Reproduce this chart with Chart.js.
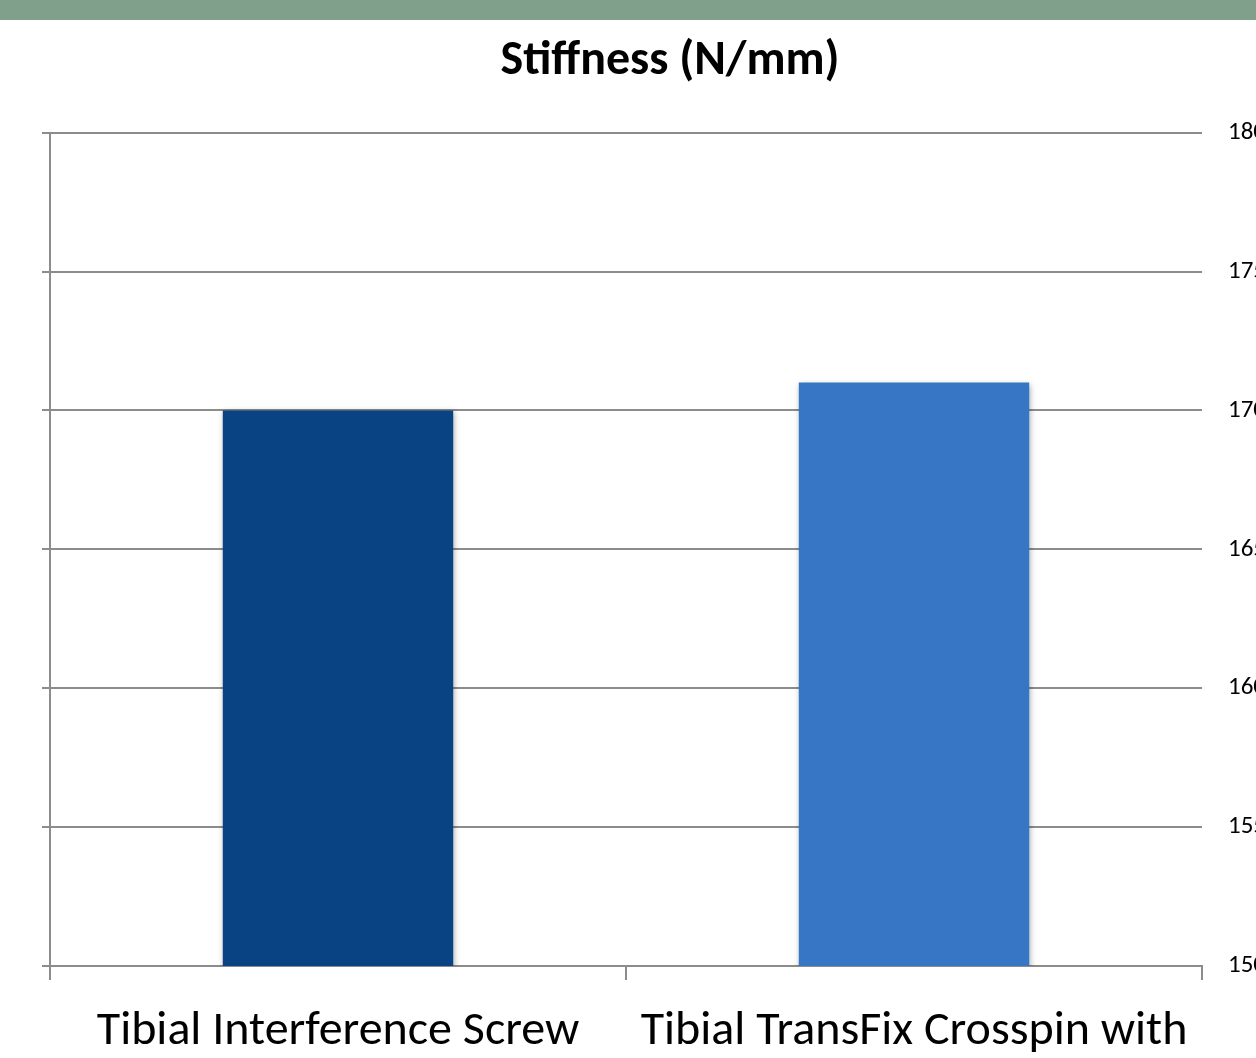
<!DOCTYPE html>
<html>
<head>
<meta charset="utf-8">
<script src="https://cdn.jsdelivr.net/npm/chart.js@4"></script>
<style>
  html, body { margin: 0; padding: 0; overflow: hidden; background: #fff; }
  #topBar { position: absolute; left: 0; top: 0; width: 1256px; height: 20px; background: #80a08c; z-index: 2; }
  #chartStiffness { position: absolute; left: 0; top: 0; }
</style>
</head>
<body>
<div id="topBar"></div>
<canvas id="chartStiffness" width="1320" height="1120"></canvas>
<script>
// Datos del gráfico
const categories = ["Tibial Interference Screw", "Tibial TransFix Crosspin with"];
const stiffness = [170, 171];
const barColors = ["#0a4383", "#3776c4"];
const yTicks = [150, 155, 160, 165, 170, 175, 180];

const fontFamily = "Carlito, Lato, 'Open Sans', sans-serif";
const axisColor = "#8c8c8c";

// Sombra ligera bajo las barras
const barShadow = {
  id: "barShadow",
  beforeDatasetsDraw(chart) {
    const ctx = chart.ctx;
    ctx.save();
    ctx.shadowColor = "rgba(0,0,0,0.35)";
    ctx.shadowBlur = 6;
    ctx.shadowOffsetX = 1;
    ctx.shadowOffsetY = 2;
  },
  afterDatasetsDraw(chart) {
    chart.ctx.restore();
  },
};

const canvas = document.getElementById("chartStiffness");
new Chart(canvas, {
  type: "bar",
  data: {
    labels: categories,
    datasets: [
      {
        label: "Stiffness (N/mm)",
        data: stiffness,
        backgroundColor: barColors,
        borderWidth: 0,
        barPercentage: 0.4,
        categoryPercentage: 1,
        yAxisID: "y",
      },
    ],
  },
  options: {
    responsive: false,
    animation: false,
    devicePixelRatio: 1,
    layout: { padding: { left: 42, top: 33, right: 22, bottom: 0 } },
    plugins: {
      legend: { display: false },
      tooltip: { enabled: false },
      title: {
        display: true,
        text: "Stiffness (N/mm)",
        color: "#000",
        font: { family: fontFamily, size: 48, weight: "bold", lineHeight: 1.2 },
        padding: { top: 0, bottom: 42 },
      },
    },
    scales: {
      x: {
        offset: true,
        afterFit(scale) { scale.height = 154; },
        grid: { offset: true, drawOnChartArea: false, tickLength: 14, color: axisColor, lineWidth: 2 },
        border: { color: axisColor, width: 2 },
        ticks: {
          autoSkip: false,
          maxRotation: 0,
          minRotation: 0,
          padding: 23,
          color: "#000",
          font: { family: fontFamily, size: 48 },
        },
      },
      y: {
        position: "right",
        min: 150,
        max: 180,
        afterFit(scale) { scale.width = 96; },
        afterBuildTicks(scale) { scale.ticks = yTicks.map((v) => ({ value: v })); },
        grid: { display: false, drawTicks: false, tickLength: 0 },
        border: { display: false },
        ticks: { padding: 26, color: "#000", font: { family: fontFamily, size: 25 } },
      },
      y2: {
        position: "left",
        min: 150,
        max: 180,
        afterFit(scale) { scale.width = 8; },
        afterBuildTicks(scale) { scale.ticks = yTicks.map((v) => ({ value: v })); },
        grid: { color: axisColor, lineWidth: 2, tickLength: 8 },
        border: { color: axisColor, width: 2 },
        ticks: { display: false },
      },
    },
  },
  plugins: [barShadow],
});
</script>
</body>
</html>
